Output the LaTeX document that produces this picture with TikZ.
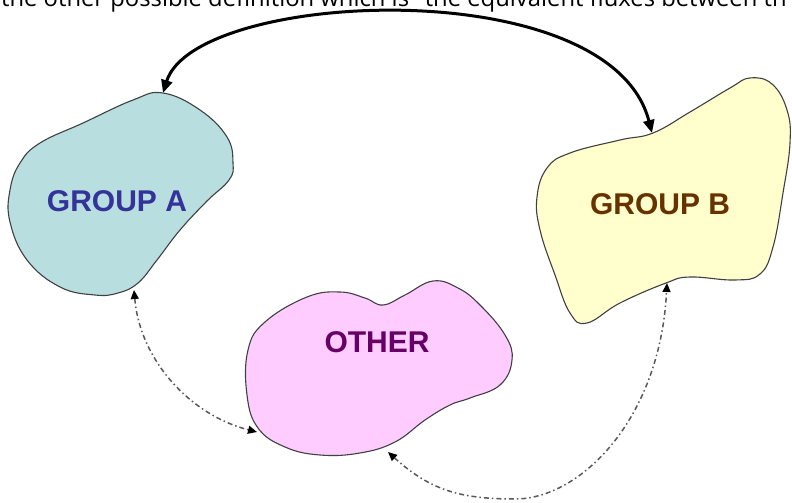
\documentclass[tikz,border=0pt]{standalone}
\usepackage{fontspec}
\setmainfont{Liberation Sans}
\newfontfamily\linefont{Open Sans}
\usetikzlibrary{arrows.meta}

\definecolor{fillA}{RGB}{184,222,224}
\definecolor{fillB}{RGB}{255,254,204}
\definecolor{fillO}{RGB}{255,204,255}
\definecolor{textA}{RGB}{51,51,153}
\definecolor{textB}{RGB}{102,51,0}
\definecolor{textO}{RGB}{102,0,102}

\begin{document}
\begin{tikzpicture}[x=1pt,y=-1pt,
	blob/.style={draw=black!75, line width=1.1pt},
	grplabel/.style={font=\bfseries\fontsize{30}{36}\selectfont, inner sep=0pt},
	flux/.style={line width=3pt, {Triangle[length=13pt,width=11pt]}-{Triangle[length=13pt,width=11pt]}},
	sidelink/.style={line width=1.5pt, black!65, dash pattern=on 5pt off 3pt on 1.5pt off 3pt,
		{Triangle[length=9pt,width=8pt,color=black]}-{Triangle[length=9pt,width=8pt,color=black]}}]

		\useasboundingbox (0,0) rectangle (792,503);
		\clip (0,0) rectangle (792,503);

		\node[anchor=base west, inner sep=0pt, font=\linefont\fontsize{23.8}{28}\selectfont] (topline) at (1,7) {the other possible definition which is "the equivalent fluxes between th};

		% the three groups
		\draw[blob, fill=fillA] plot[smooth cycle, tension=0.7] coordinates {(163,93) (200,110) (227,137) (233,163) (229,180) (207,201) (180,230) (157,260) (138,283) (118,293) (95,295) (60,287) (27,260) (10,222) (10,190) (20,163) (40,143) (83,123) (133,100)};
		\draw[blob, fill=fillB] plot[smooth cycle, tension=0.7] coordinates {(653,133) (690,112) (730,88) (750,78) (772,84) (787,110) (790,143) (783,193) (773,247) (760,274) (735,280) (690,277) (666,283) (620,303) (587,323) (570,313) (555,275) (540,230) (537,197) (547,168) (570,153) (620,140)};
		\draw[blob, fill=fillO] plot[smooth cycle, tension=0.7] coordinates {(307,297) (340,292) (365,298) (383,305) (405,295) (433,281) (458,288) (480,305) (505,335) (512,360) (500,385) (470,398) (450,405) (425,420) (395,442) (360,453) (320,455) (285,447) (258,428) (247,395) (248,350) (265,322)};

		\node[grplabel, textA] (grpA) at (117,201) {GROUP A};
		\node[grplabel, textB] (grpB) at (660,204) {GROUP B};
		\node[grplabel, textO] (other) at (377,342) {OTHER};

		\coordinate (aTop) at (163,93);
		\coordinate (aBot) at (134,290);
		\coordinate (bTop) at (652,133);
		\coordinate (bBot) at (667,283);
		\coordinate (oLeft) at (257,432);
		\coordinate (oBot) at (388,452);

		% links between the groups
		\draw[flux] (aTop) .. controls (195,-10) and (610,-30) .. (bTop);
		\draw[sidelink] (aBot) .. controls (140,360) and (190,415) .. (oLeft);
		\draw[sidelink] (oBot) .. controls (430,490) and (460,499) .. (515,499) .. controls (580,499) and (660,420) .. (bBot);
	\end{tikzpicture}
\end{document}
